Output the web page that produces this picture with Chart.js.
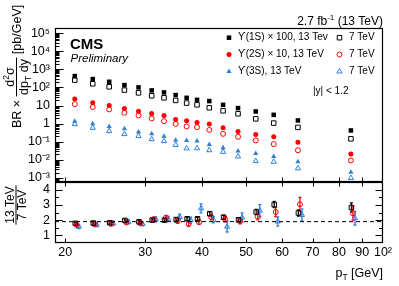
<!DOCTYPE html>
<html><head><meta charset="utf-8">
<script src="https://cdn.jsdelivr.net/npm/chart.js@4/dist/chart.umd.min.js"></script>
<style>
html,body{margin:0;padding:0;background:#fff;}
#wrap{position:relative;width:399px;height:286px;background:#fff;}
canvas{position:absolute;left:0;top:0;}
</style></head><body>
<div id="wrap"><canvas id="topc" width="399" height="286"></canvas><canvas id="ratioc" width="399" height="286"></canvas></div>
<script>
// ---------------- data ----------------
const ptBins   = [21,23,25,27,29,31,33,35,37,39,41.5,44.5,48,52.5,57.5,65,85];
const ups1S_13 = [421,288,204,134,100,68,53,37.6,26.6,20.6,17.5,10.9,7.2,4.7,3.06,1.50,0.42];
const ups1S_7  = [253,158,108,71,50,34.4,26.6,19.1,13.6,10.9,7.5,5.1,3.5,1.84,1.07,0.62,0.145];
const ups2S_13 = [22.6,14.1,10.1,6.9,4.9,3.66,2.84,1.71,1.43,1.16,0.94,0.59,0.37,0.253,0.187,0.095,0.0214];
const ups2S_7  = [11.9,8.2,6.1,3.95,2.84,1.94,1.37,0.97,0.70,0.64,0.45,0.273,0.187,0.118,0.074,0.034,0.0093];
const ups3S_13 = [1.37,0.97,0.70,0.52,0.35,0.273,0.204,0.122,0.118,0.11,0.071,0.046,0.031,0.0226,0.0154,0.0078,0.0021];
const ups3S_7  = [0.94,0.59,0.385,0.263,0.204,0.139,0.108,0.067,0.043,0.044,0.034,0.0277,0.0154,0.0085,0.0078,0.0034,0.0010];

const ratio1S = [1.79,1.81,1.83,1.98,1.89,2.00,2.00,2.04,2.09,2.09,2.42,2.19,2.02,2.53,3.02,2.47,2.83];
const ratio2S = [1.68,1.72,1.75,1.85,1.79,2.06,2.17,1.94,1.75,1.87,2.20,2.06,1.94,2.23,2.53,3.04,2.45];
const ratio3S = [1.57,1.70,1.79,1.89,1.75,2.06,2.09,2.21,2.00,2.77,2.02,1.57,2.17,2.62,1.91,2.34,2.13];
const err1S   = [0.07,0.07,0.07,0.08,0.08,0.08,0.09,0.09,0.10,0.10,0.12,0.12,0.12,0.17,0.20,0.20,0.30];
const err2S   = [0.10,0.10,0.10,0.10,0.10,0.12,0.13,0.14,0.15,0.15,0.17,0.17,0.18,0.22,0.30,0.45,0.45];
const err3S   = [0.12,0.12,0.12,0.13,0.13,0.15,0.16,0.18,0.20,0.30,0.20,0.35,0.30,0.40,0.30,0.40,0.45];
const ratioRef = 1.9;

const xTicks = [20,30,40,50,60,70,80,90,100];
const yTicksTop = [1e-3,1e-2,1e-1,1,10,100,1e3,1e4,1e5];
const yTicksRatio = [1,2,3,4];

// ---------------- styling ----------------
const FAM = "'Liberation Sans', Arial, Helvetica, sans-serif";
Chart.defaults.font.family = FAM;
Chart.defaults.color = '#000';
const BLACK = '#000000', RED = '#ff0000', BLUE = '#2f7fdb';
const X_MIN = 19, X_MAX = 100;
const Y_MIN = 6e-4, Y_MAX = 1.9e5;
const F = (s, st) => (st ? st + ' ' : '') + s + 'px ' + FAM;

function supLabel(v){
  const e = Math.round(Math.log10(v));
  if (e === 0) return '1';
  if (e === 1) return '10';
  const m = {'-':'\u207B','0':'\u2070','1':'\u00B9','2':'\u00B2','3':'\u00B3','4':'\u2074','5':'\u2075','6':'\u2076','7':'\u2077','8':'\u2078','9':'\u2079'};
  return '10' + String(e).split('').map(c => m[c]).join('');
}

function ds(vals, xs, style, color, filled, r){
  return {
    data: vals.map((v,i)=>({x: xs[i], y: v})),
    pointStyle: style, pointRadius: r, pointHoverRadius: r,
    backgroundColor: filled ? color : 'rgba(0,0,0,0)',
    borderColor: color, borderWidth: filled ? 0 : 1, showLine: false
  };
}

function drawRich(ctx, parts, x, y, align){
  let total = 0;
  parts.forEach(p => { ctx.font = p.font; p.w = ctx.measureText(p.t).width; total += p.w; });
  let cx = align === 'right' ? x - total : (align === 'center' ? x - total/2 : x);
  parts.forEach(p => { ctx.font = p.font; ctx.fillText(p.t, cx, y + (p.dy || 0)); cx += p.w; });
  return total;
}
function measureRich(ctx, parts){
  let t = 0; parts.forEach(p => { ctx.font = p.font; t += ctx.measureText(p.t).width; }); return t;
}
function drawMarker(ctx, style, x, y, r, color, filled){
  ctx.save(); ctx.beginPath();
  if (style === 'rect'){ const s = r*Math.SQRT1_2; ctx.rect(x-s, y-s, 2*s, 2*s); }
  else if (style === 'circle'){ ctx.arc(x, y, r, 0, 2*Math.PI); }
  else {
    const a = 2*Math.PI/3;
    ctx.moveTo(x, y-r);
    ctx.lineTo(x + r*Math.sin(a), y - r*Math.cos(a));
    ctx.lineTo(x + r*Math.sin(2*a), y - r*Math.cos(2*a));
    ctx.closePath();
  }
  if (filled){ ctx.fillStyle = color; ctx.fill(); } else { ctx.strokeStyle = color; ctx.lineWidth = 1; ctx.stroke(); }
  ctx.restore();
}

// frame + inward ticks
function framePlugin(kind){
  return {
    id: 'frame_' + kind,
    afterDraw(chart){
      const {ctx, chartArea: a, scales} = chart;
      const L = Math.round(a.left) + 0.5, R = Math.round(a.right) - 0.5;
      const T = Math.round(a.top) + 0.5, B = Math.round(a.bottom) - 0.5;
      ctx.save();
      ctx.strokeStyle = '#000'; ctx.lineWidth = 1;
      ctx.beginPath();
      const ys = scales.y, xs = scales.x;
      // y ticks
      if (kind === 'top'){
        for (let d = -4; d <= 5; d++){
          for (let m = 1; m <= 9; m++){
            const v = m * Math.pow(10, d);
            if (v < Y_MIN || v > Y_MAX) continue;
            const py = Math.round(ys.getPixelForValue(v)) + 0.5;
            const len = m === 1 ? 8 : 4;
            ctx.moveTo(L, py); ctx.lineTo(L + len, py);
          }
        }
        xTicks.forEach(v => {
          if (v >= X_MAX) return;
          const px = Math.round(xs.getPixelForValue(v)) + 0.5;
          ctx.moveTo(px, B); ctx.lineTo(px, B - 4);
        });
      } else {
        for (let v = 0.5; v <= 4.5; v += 0.5){
          if (v <= 0.5 || v >= 4.5) continue;
          const py = Math.round(ys.getPixelForValue(v)) + 0.5;
          const len = Number.isInteger(v) ? 7 : 3.5;
          ctx.moveTo(L, py); ctx.lineTo(L + len, py);
          ctx.moveTo(R, py); ctx.lineTo(R - len, py);
        }
        xTicks.forEach(v => {
          if (v >= X_MAX) return;
          const px = Math.round(xs.getPixelForValue(v)) + 0.5;
          ctx.moveTo(px, B); ctx.lineTo(px, B - 4);
          ctx.moveTo(px, T); ctx.lineTo(px, T + 4);
        });
      }
      ctx.stroke();
      ctx.lineWidth = 1.2;
      ctx.strokeRect(L, T, R - L, B - T);
      ctx.restore();
    }
  };
}

const topText = {
  id: 'topText',
  afterDraw(chart){
    const ctx = chart.ctx;
    ctx.save();
    ctx.fillStyle = '#000'; ctx.textBaseline = 'alphabetic'; ctx.textAlign = 'left';
    // lumi
    drawRich(ctx, [{t:'2.7 fb', font:F(12)}, {t:'-1', font:F(8), dy:-5}, {t:' (13 TeV)', font:F(12)}], 383, 25, 'right');
    // CMS label
    ctx.font = F(15, 'bold'); ctx.fillText('CMS', 70, 49);
    ctx.font = F(11.5, 'italic'); ctx.fillText('Preliminary', 70.5, 61.5);
    // legend
    const rows = [
      {y:37.7, s:'rect', c:BLACK, r:3.2, t:'\u03D2(1S) \u00D7 100, 13 Tev'},
      {y:54.5, s:'circle', c:RED, r:2.5, t:'\u03D2(2S) \u00D7 10, 13 TeV'},
      {y:71.5, s:'triangle', c:BLUE, r:3, t:'\u03D2(3S), 13 TeV'}
    ];
    ctx.textBaseline = 'middle';
    rows.forEach(rw => {
      drawMarker(ctx, rw.s, 229, rw.y, rw.r, rw.c, true);
      ctx.font = F(10); ctx.fillStyle = '#000'; ctx.fillText(rw.t, 238, rw.y);
      drawMarker(ctx, rw.s, 339.5, rw.y, rw.r, rw.c, false);
      ctx.fillStyle = '#000'; ctx.fillText('7 TeV', 349, rw.y);
    });
    ctx.font = F(10); ctx.fillText('|y| < 1.2', 313, 91);
    // y title
    ctx.textBaseline = 'alphabetic';
    ctx.translate(21, 128); ctx.rotate(-Math.PI/2);
    let cx = drawRich(ctx, [{t:'BR \u00D7 ', font:F(12.5)}], 0, 0, 'left');
    const num = [{t:'d', font:F(12.5)}, {t:'2', font:F(8.5), dy:-5}, {t:'\u03C3', font:F(12.5)}];
    const den = [{t:'dp', font:F(12.5)}, {t:'T', font:F(8.5), dy:3}, {t:' dy', font:F(12.5)}];
    const fw = Math.max(measureRich(ctx, num), measureRich(ctx, den)) + 3;
    drawRich(ctx, num, cx + fw/2, -7, 'center');
    drawRich(ctx, den, cx + fw/2, 6.5, 'center');
    ctx.strokeStyle = '#000'; ctx.lineWidth = 1;
    ctx.beginPath(); ctx.moveTo(cx, -4.5); ctx.lineTo(cx + fw, -4.5); ctx.stroke();
    cx += fw;
    drawRich(ctx, [{t:' [pb/GeV]', font:F(12.5)}], cx, 0, 'left');
    ctx.restore();
  }
};

const ratioText = {
  id: 'ratioText',
  afterDraw(chart){
    const ctx = chart.ctx;
    ctx.save();
    ctx.fillStyle = '#000'; ctx.textBaseline = 'alphabetic';
    drawRich(ctx, [{t:'p', font:F(12.5)}, {t:'T', font:F(8.5), dy:3}, {t:' [GeV]', font:F(12.5)}], 383, 276.5, 'right');
    ctx.translate(15.5, 205); ctx.rotate(-Math.PI/2);
    ctx.font = F(12);
    const w = Math.max(ctx.measureText('13 TeV').width, ctx.measureText('7 TeV').width) + 2;
    ctx.textAlign = 'center';
    ctx.fillText('13 TeV', 0, -2);
    ctx.fillText('7 TeV', 0, 10);
    ctx.strokeStyle = '#000'; ctx.lineWidth = 1;
    ctx.beginPath(); ctx.moveTo(-w/2, 0.5); ctx.lineTo(w/2, 0.5); ctx.stroke();
    ctx.restore();
  }
};

const errorBars = {
  id: 'errorBars',
  beforeDatasetsDraw(chart){
    const {ctx, scales} = chart;
    ctx.save();
    chart.data.datasets.forEach(d => {
      if (!d.errs) return;
      ctx.strokeStyle = d.borderColor; ctx.lineWidth = 1.3;
      ctx.beginPath();
      d.data.forEach((p, i) => {
        const px = scales.x.getPixelForValue(p.x);
        const y1 = scales.y.getPixelForValue(p.y - d.errs[i]);
        const y2 = scales.y.getPixelForValue(p.y + d.errs[i]);
        ctx.moveTo(px, y1); ctx.lineTo(px, y2);
        ctx.moveTo(px - 1.5, y1); ctx.lineTo(px + 1.5, y1);
        ctx.moveTo(px - 1.5, y2); ctx.lineTo(px + 1.5, y2);
      });
      ctx.stroke();
    });
    ctx.restore();
  }
};

// ---------------- top panel ----------------
new Chart(document.getElementById('topc'), {
  type: 'scatter',
  data: { datasets: [
    ds(ups1S_13, ptBins, 'rect', BLACK, true, 3.2),
    ds(ups1S_7, ptBins, 'rect', BLACK, false, 3.2),
    ds(ups2S_13, ptBins, 'circle', RED, true, 2.5),
    ds(ups2S_7, ptBins, 'circle', RED, false, 2.5),
    ds(ups3S_13, ptBins, 'triangle', BLUE, true, 3),
    ds(ups3S_7, ptBins, 'triangle', BLUE, false, 3)
  ]},
  options: {
    responsive: false, animation: false, devicePixelRatio: 1,
    layout: { padding: { left: 0, right: 16, top: 28, bottom: 104 } },
    plugins: { legend: { display: false }, tooltip: { enabled: false } },
    events: [],
    scales: {
      x: { type: 'logarithmic', min: X_MIN, max: X_MAX, display: false },
      y: { type: 'logarithmic', min: Y_MIN, max: Y_MAX,
           grid: { display: false, drawTicks: false }, border: { display: false },
           afterBuildTicks(s){ s.ticks = yTicksTop.map(v => ({value: v})); },
           ticks: { callback: v => supLabel(v), padding: 5, font: { size: 12.5 }, autoSkip: false },
           afterFit(s){ s.width = 55; } }
    }
  },
  plugins: [framePlugin('top'), topText]
});

// ---------------- ratio panel ----------------
const shift = (xs, f) => xs.map(v => v * f);
const r1 = ds(ratio1S, shift(ptBins, 1.0025), 'rect', BLACK, false, 3.2); r1.errs = err1S;
const r2 = ds(ratio2S, shift(ptBins, 1.0102), 'circle', RED, false, 2.5); r2.errs = err2S;
const r3 = ds(ratio3S, shift(ptBins, 1.0206), 'triangle', BLUE, false, 3); r3.errs = err3S;
new Chart(document.getElementById('ratioc'), {
  type: 'scatter',
  data: { datasets: [
    { type: 'line', data: [{x: X_MIN, y: ratioRef}, {x: X_MAX, y: ratioRef}], borderColor: '#000', borderWidth: 1,
      borderDash: [4, 3], pointRadius: 0, fill: false },
    r1, r2, r3
  ]},
  options: {
    responsive: false, animation: false, devicePixelRatio: 1,
    layout: { padding: { left: 0, right: 16, top: 182, bottom: 0 } },
    plugins: { legend: { display: false }, tooltip: { enabled: false } },
    events: [],
    scales: {
      x: { type: 'logarithmic', min: X_MIN, max: X_MAX,
           grid: { display: false, drawTicks: false }, border: { display: false },
           afterBuildTicks(s){ s.ticks = xTicks.map(v => ({value: v})); },
           ticks: { callback: v => (v === 100 ? '10\u00B2' : String(v)), padding: 2, font: { size: 12.5 }, autoSkip: false, maxRotation: 0 },
           afterFit(s){ s.height = 43; } },
      y: { type: 'linear', min: 0.5, max: 4.5,
           grid: { display: false, drawTicks: false }, border: { display: false },
           afterBuildTicks(s){ s.ticks = yTicksRatio.map(v => ({value: v})); },
           ticks: { padding: 5, font: { size: 12.5 }, autoSkip: false },
           afterFit(s){ s.width = 55; } }
    }
  },
  plugins: [framePlugin('ratio'), errorBars, ratioText]
});
</script>
</body></html>
